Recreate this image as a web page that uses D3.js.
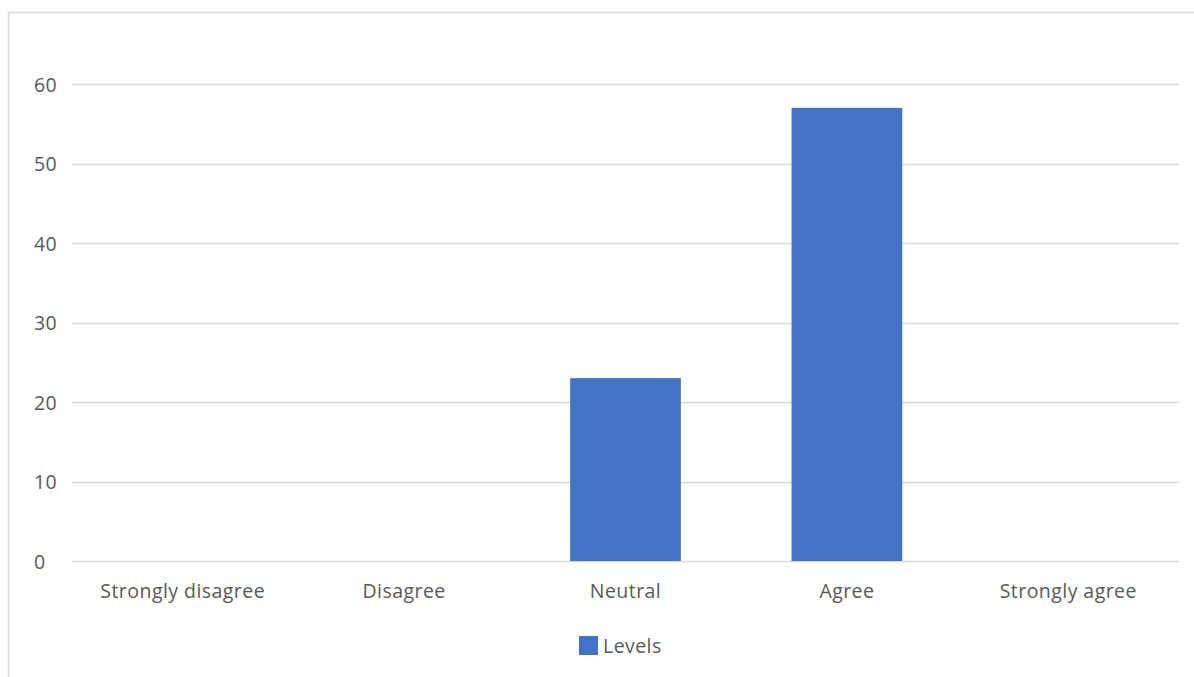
<!DOCTYPE html>
<html>
<head>
<meta charset="utf-8">
<script src="https://cdn.jsdelivr.net/npm/d3@7"></script>
<style>
  html, body { margin: 0; padding: 0; background: #fff; }
  svg { display: block; }
  text { font-family: "Open Sans", sans-serif; fill: #595959; }
</style>
</head>
<body>
<svg id="chart" width="1194" height="677"></svg>
<script>
// Survey responses per agreement level
const categories = ["Strongly disagree", "Disagree", "Neutral", "Agree", "Strongly agree"];
const levels = [0, 0, 23, 57, 0];
const yTicks = [0, 10, 20, 30, 40, 50, 60];
const seriesName = "Levels";

const svg = d3.select("#chart");
const W = 1194, H = 677;
const fontSize = "19.5px";
const spacing = "0.45px";

// chart frame
svg.append("rect")
  .attr("x", 8.5).attr("y", 12.5)
  .attr("width", W + 10).attr("height", H)
  .attr("fill", "#fff").attr("stroke", "#d9d9d9").attr("stroke-width", 1.5);

const plot = { left: 72, right: 1179, top: 84, bottom: 561 };

const x = d3.scaleBand()
  .domain(categories)
  .range([plot.left, plot.right])
  .paddingInner(0.5)
  .paddingOuter(0.25);

const y = d3.scaleLinear()
  .domain([0, 60])
  .range([plot.bottom, plot.top]);

// horizontal gridlines
svg.append("g")
  .selectAll("line")
  .data(yTicks)
  .join("line")
  .attr("x1", plot.left).attr("x2", plot.right)
  .attr("y1", d => Math.round(y(d)) + 0.5).attr("y2", d => Math.round(y(d)) + 0.5)
  .attr("stroke", "#d9d9d9").attr("stroke-width", 1.5);

// y axis labels, left-aligned in their column
const yAxis = d3.axisLeft(y).tickValues(yTicks).tickSize(0).tickPadding(0);
const gy = svg.append("g")
  .attr("transform", "translate(34,1)")
  .call(yAxis);
gy.select(".domain").remove();
gy.selectAll("text")
  .attr("text-anchor", "start")
  .style("font-size", fontSize)
  .style("letter-spacing", spacing)
  .attr("fill", "#595959");

// bars
svg.append("g")
  .selectAll("rect")
  .data(categories.map((c, i) => ({ c, v: levels[i] })).filter(d => d.v > 0))
  .join("rect")
  .attr("x", d => x(d.c))
  .attr("width", x.bandwidth())
  .attr("y", d => y(d.v))
  .attr("height", d => y(0) - y(d.v))
  .attr("fill", "#4472c4");

// category labels
const xAxis = d3.axisBottom(x).tickSize(0).tickPadding(0);
const gx = svg.append("g")
  .attr("transform", `translate(0,${plot.bottom + 23})`)
  .call(xAxis);
gx.select(".domain").remove();
gx.selectAll("text")
  .style("font-size", fontSize)
  .style("letter-spacing", spacing)
  .attr("fill", "#595959");

// legend
const legend = svg.append("g").attr("transform", "translate(579,636)");
legend.append("rect")
  .attr("width", 19).attr("height", 19)
  .attr("fill", "#4472c4");
legend.append("text")
  .attr("x", 24).attr("y", 10)
  .attr("dy", "0.35em")
  .style("font-size", fontSize)
  .style("letter-spacing", spacing)
  .text(seriesName);
</script>
</body>
</html>
